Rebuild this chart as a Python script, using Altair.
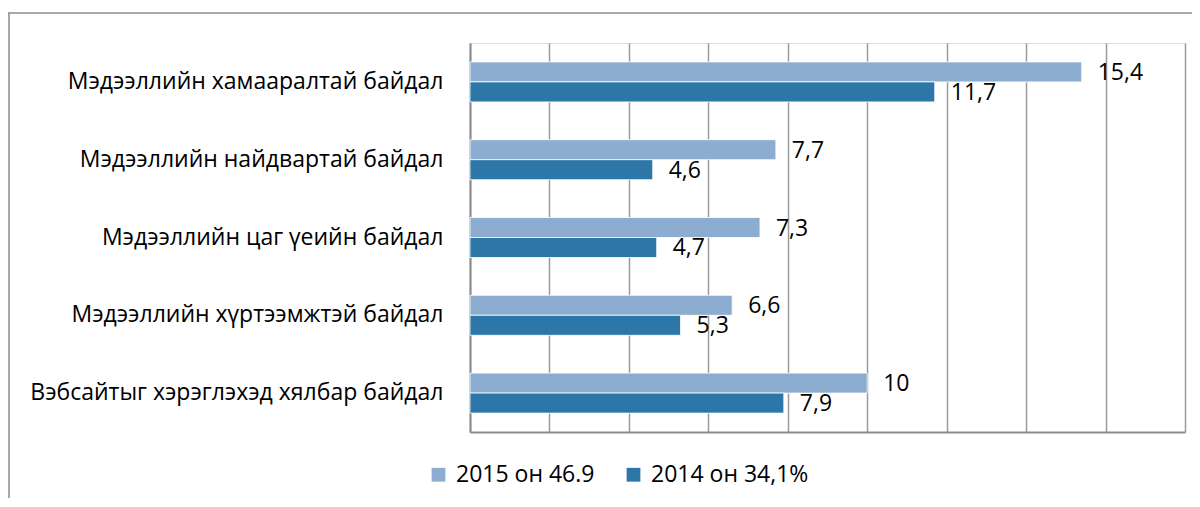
import altair as alt
import pandas as pd

categories = [
    "Мэдээллийн хамааралтай байдал",
    "Мэдээллийн найдвартай байдал",
    "Мэдээллийн цаг үеийн байдал",
    "Мэдээллийн хүртээмжтэй байдал",
    "Вэбсайтыг хэрэглэхэд хялбар байдал",
]
series = ["2015 он 46.9", "2014 он 34,1%"]
values_2015 = [15.4, 7.7, 7.3, 6.6, 10]
values_2014 = [11.7, 4.6, 4.7, 5.3, 7.9]
grid_values = [0, 2, 4, 6, 8, 10, 12, 14, 16, 18]
colors = ["#8CADCF", "#2C77A7"]

rows = []
for c, a, b in zip(categories, values_2015, values_2014):
    rows.append({"cat": c, "series": series[0], "value": a})
    rows.append({"cat": c, "series": series[1], "value": b})
df = pd.DataFrame(rows)

FONT = "Open Sans"
FS = 23

base = alt.Chart(df).encode(
    y=alt.Y(
        "cat:N",
        sort=categories,
        title=None,
        scale=alt.Scale(paddingInner=0.486, paddingOuter=0.243),
        axis=alt.Axis(
            ticks=False,
            tickSize=0,
            labelPadding=27,
            labelFont=FONT,
            labelFontSize=FS,
            labelColor="#000000",
            labelLimit=600,
            domainColor="#8c8c8c",
            domainWidth=2,
        ),
    ),
    yOffset=alt.YOffset("series:N", sort=series, scale=alt.Scale(paddingInner=0, paddingOuter=0)),
)

bars = base.mark_bar(stroke="white", strokeWidth=0.8).encode(
    x=alt.X(
        "value:Q",
        title=None,
        scale=alt.Scale(domain=[0, 18], nice=False),
        axis=alt.Axis(
            values=grid_values,
            labels=False,
            ticks=False,
            grid=True,
            gridColor="#9a9a9a",
            gridWidth=1.5,
            domainColor="#8c8c8c",
            domainWidth=2,
        ),
    ),
    color=alt.Color(
        "series:N",
        sort=series,
        scale=alt.Scale(domain=series, range=colors),
        legend=alt.Legend(
            title=None,
            orient="none",
            legendX=-43,
            legendY=420,
            direction="horizontal",
            symbolType="square",
            symbolSize=190,
            symbolStrokeWidth=0,
            labelFont=FONT,
            labelFontSize=FS,
            labelColor="#000000",
            columnPadding=27,
            labelOffset=6,
        ),
    ),
)

labels = base.mark_text(
    align="left", baseline="middle", dx=16, dy=1, font=FONT, fontSize=FS, color="#000000"
).transform_calculate(
    label="replace(toString(datum.value), '.', ',')"
).encode(x="value:Q", text="label:N")

frame_df = pd.DataFrame({"k": [0]})
top_border = alt.Chart(frame_df).mark_rule(color="#8c8c8c", strokeWidth=1.5).encode(
    x=alt.value(-462), x2=alt.value(740), y=alt.value(-30)
)
left_border = alt.Chart(frame_df).mark_rule(color="#8c8c8c", strokeWidth=1.5).encode(
    x=alt.value(-461), y=alt.value(-30), y2=alt.value(480)
)

chart = (
    alt.layer(bars, labels, top_border, left_border)
    .properties(
        width=715,
        height=389,
        autosize=alt.AutoSizeParams(type="none"),
        padding={"left": 462, "top": 35, "right": 7, "bottom": 66},
    )
    .configure_view(strokeWidth=0)
    .configure(background="white")
)

chart.save("out.html", embed_options={"renderer": "svg", "actions": False})
